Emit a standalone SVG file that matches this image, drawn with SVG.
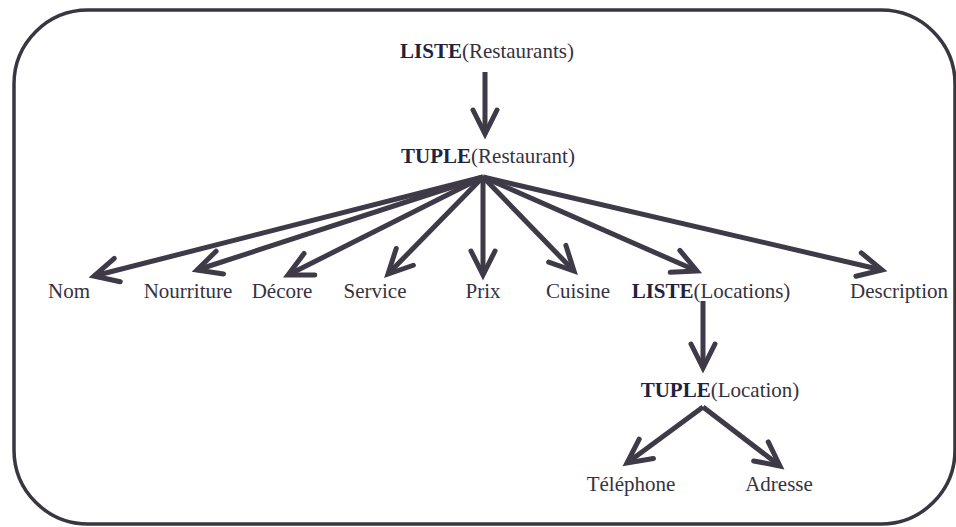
<svg xmlns="http://www.w3.org/2000/svg" width="956" height="527" viewBox="0 0 956 527">
<style>
.t{font-family:"Liberation Serif","Times New Roman",serif;font-size:21px;fill:#36323d;text-anchor:middle}
.k{font-weight:bold;fill:#1e2340}
.c line{stroke:#3e3a47;stroke-width:5;marker-end:url(#ah)}
</style>
<defs>
<marker id="ah" markerUnits="userSpaceOnUse" orient="auto" refX="0" refY="0" markerWidth="40" markerHeight="40" overflow="visible">
<path d="M-24,-12 L0,0 L-24,12" fill="none" stroke="#3e3a47" stroke-width="5" stroke-linejoin="miter" stroke-linecap="round"/>
</marker>
</defs>
<rect width="956" height="527" fill="#ffffff"/>
<rect id="frame" x="14" y="10" width="941" height="514" rx="74" ry="74" fill="none" stroke="#3a3641" stroke-width="3.5"/>
<g id="connectors" class="c">
<line x1="485" y1="72" x2="485" y2="134"/>
<line x1="483" y1="177" x2="94" y2="276"/>
<line x1="483" y1="177" x2="197" y2="270"/>
<line x1="483" y1="177" x2="288" y2="275"/>
<line x1="483" y1="177" x2="388" y2="274"/>
<line x1="483" y1="177" x2="483" y2="275"/>
<line x1="483" y1="177" x2="574" y2="271"/>
<line x1="483" y1="177" x2="697" y2="271"/>
<line x1="483" y1="177" x2="882" y2="270"/>
<line x1="703" y1="301" x2="703" y2="368"/>
<line x1="703" y1="407" x2="627" y2="463"/>
<line x1="703" y1="407" x2="780" y2="466"/>
</g>
<g id="n-liste-restaurants"><text class="t" x="487" y="58"><tspan class="k">LISTE</tspan>(Restaurants)</text></g>
<g id="n-tuple-restaurant"><text class="t" x="488" y="163"><tspan class="k">TUPLE</tspan>(Restaurant)</text></g>
<g id="n-nom"><text class="t" x="69" y="298">Nom</text></g>
<g id="n-nourriture"><text class="t" x="188" y="298">Nourriture</text></g>
<g id="n-decore"><text class="t" x="282" y="298">Décore</text></g>
<g id="n-service"><text class="t" x="375" y="298">Service</text></g>
<g id="n-prix"><text class="t" x="483" y="298">Prix</text></g>
<g id="n-cuisine"><text class="t" x="578" y="298">Cuisine</text></g>
<g id="n-liste-locations"><text class="t" x="711" y="298"><tspan class="k">LISTE</tspan>(Locations)</text></g>
<g id="n-description"><text class="t" x="948" y="298" style="text-anchor:end">Description</text></g>
<g id="n-tuple-location"><text class="t" x="720" y="397"><tspan class="k">TUPLE</tspan>(Location)</text></g>
<g id="n-telephone"><text class="t" x="631" y="491">Téléphone</text></g>
<g id="n-adresse"><text class="t" x="779" y="491">Adresse</text></g>
</svg>
